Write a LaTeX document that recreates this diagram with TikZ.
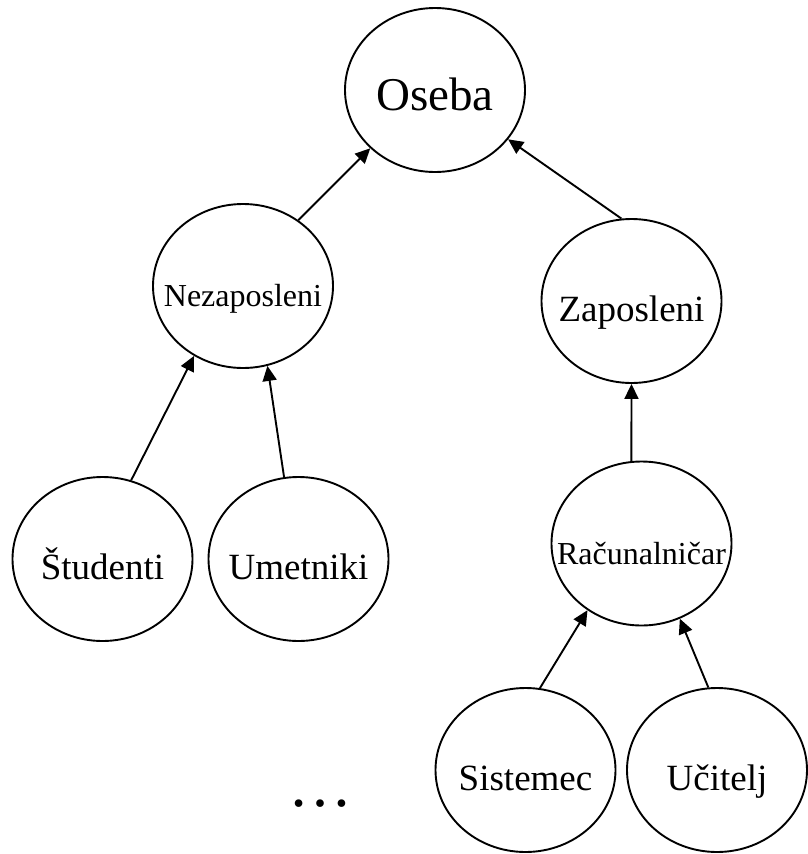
\documentclass[tikz,border=0pt]{standalone}
\usepackage{fontspec}
\setmainfont{Liberation Serif}
\usetikzlibrary{arrows.meta,shapes.geometric}

\newcommand{\elabel}[1]{\makebox[0pt]{#1}}

\begin{document}
\begin{tikzpicture}[
x=1pt, y=-1pt,
line width=1.9pt,
class/.style={draw, ellipse, minimum width=180pt, minimum height=164pt, inner sep=0pt, text height=41pt, text depth=0pt, font=\fontsize{37}{40}\selectfont},
smalltext/.style={font=\fontsize{32}{34}\selectfont},
largetext/.style={font=\fontsize{47}{50}\selectfont},
>={Triangle[length=15pt,width=14pt]}
]
\useasboundingbox (0,0) rectangle (807,854);

\node[class, largetext] (oseba) at (435,90) {\elabel{Oseba}};
\node[class, smalltext] (nezap) at (243,286) {\elabel{Nezaposleni}};
\node[class] (zap) at (631.5,301) {\elabel{Zaposleni}};
\node[class] (stud) at (102.5,559) {\elabel{Študenti}};
\node[class] (umet) at (298.5,559) {\elabel{Umetniki}};
\node[class, smalltext] (racun) at (641.5,543.5) {\elabel{Računalničar}};
\node[class] (sist) at (525.5,770) {\elabel{Sistemec}};
\node[class] (ucit) at (717,770) {\elabel{Učitelj}};
\node[font=\fontsize{64}{64}\selectfont, inner sep=0pt] (dots) at (320,804) {…};

\draw[->] (nezap.50) -- (oseba.222);
\draw[->] (zap.97) -- (oseba.326);
\draw[->] (stud.70) -- (nezap.235);
\draw[->] (umet.100) -- (nezap.287);
\draw[->] (racun.97) -- (zap.270);
\draw[->] (sist.80) -- (racun.231);
\draw[->] (ucit.96) -- (racun.297);
\end{tikzpicture}
\end{document}
